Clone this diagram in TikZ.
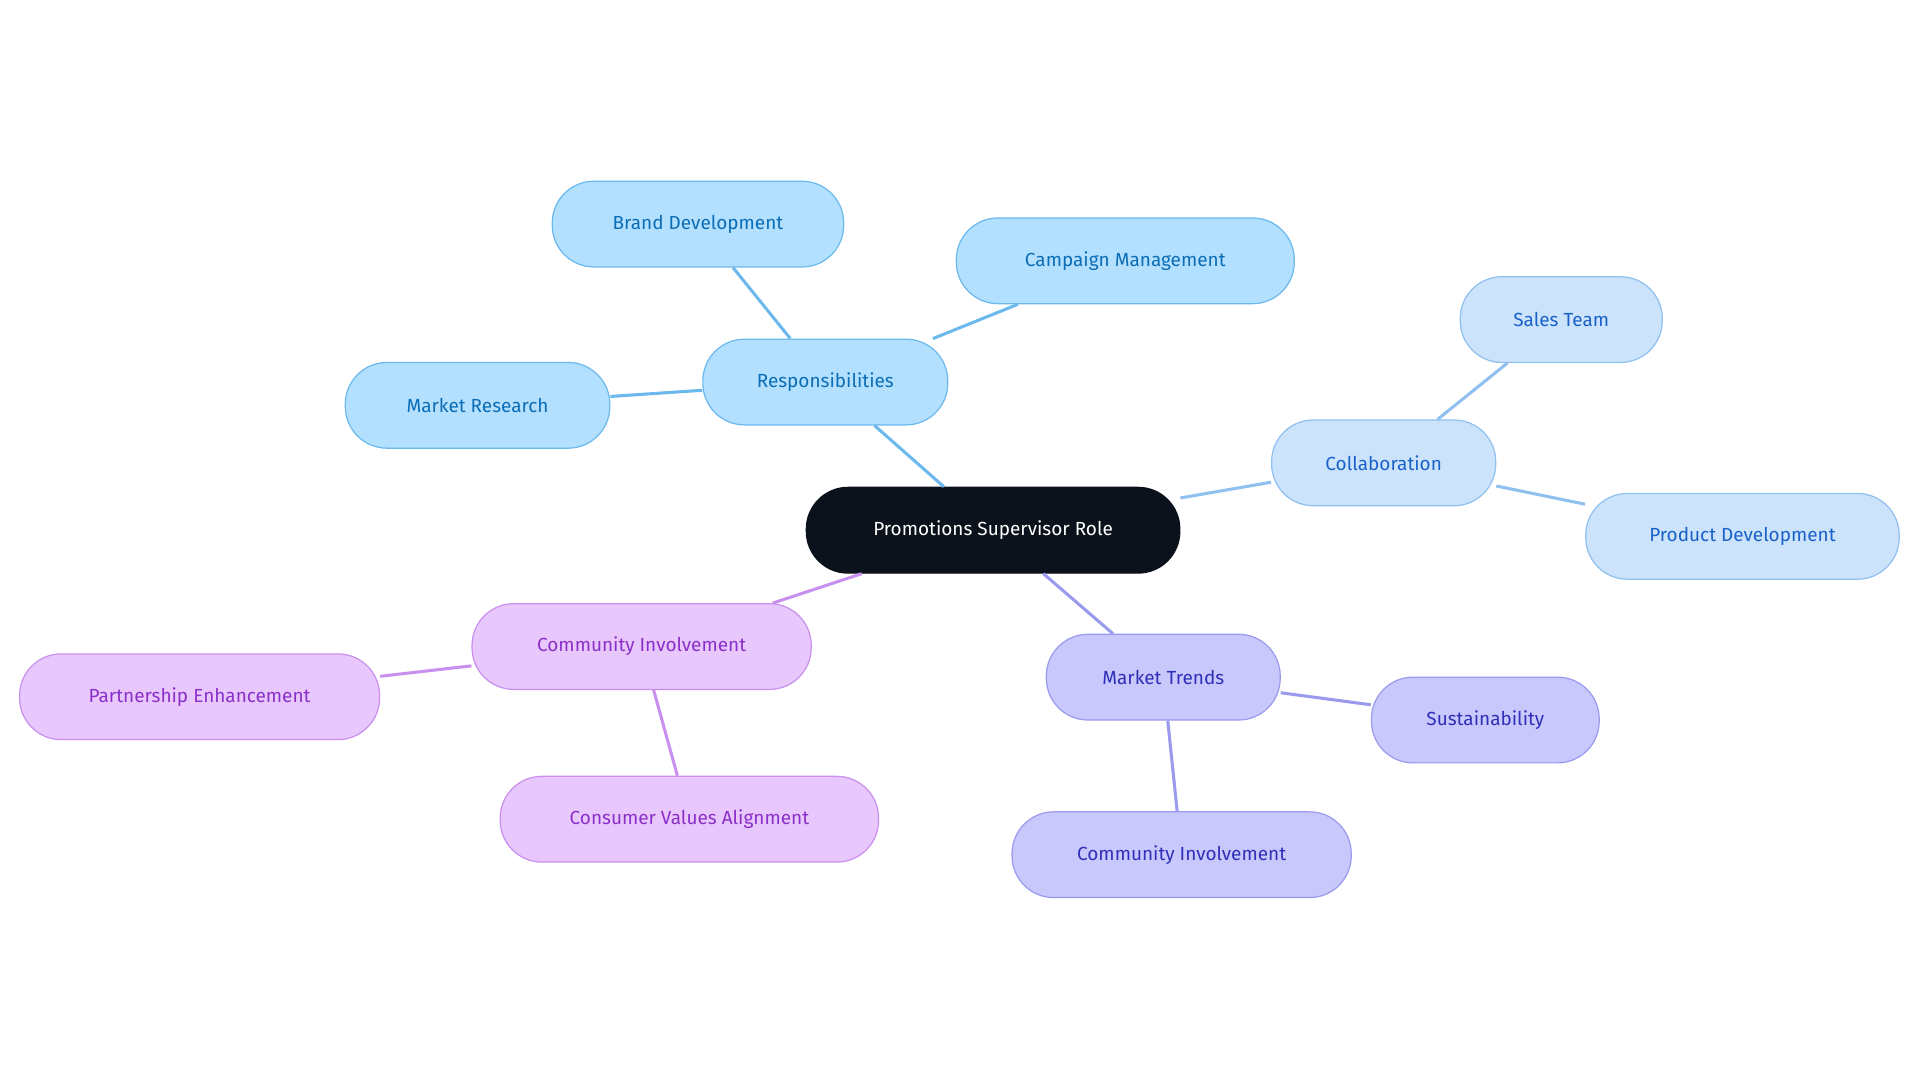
\documentclass[tikz,border=0pt]{standalone}
\usepackage{fontspec}
\setmainfont{Fira Sans}
\begin{document}
\begin{tikzpicture}[x=1pt,y=-1pt,
 box/.style={rounded corners=34pt,minimum height=70pt,line width=1pt,font=\fontsize{15.5}{18}\selectfont,inner sep=0pt},
 blu/.style={box,fill=bF,draw=bS,text=bT},
 col/.style={box,fill=cF,draw=cS,text=cT},
 mkt/.style={box,fill=mF,draw=mS,text=mT},
 com/.style={box,fill=pF,draw=pS,text=pT},
 ed/.style={line width=2.5pt}]
\definecolor{bF}{HTML}{B3E0FF}\definecolor{bS}{HTML}{6CB9ED}\definecolor{bT}{HTML}{0B6DB5}
\definecolor{cF}{HTML}{CCE3FC}\definecolor{cS}{HTML}{90C0EF}\definecolor{cT}{HTML}{1A62C9}
\definecolor{mF}{HTML}{C8C8FC}\definecolor{mS}{HTML}{9A9AEF}\definecolor{mT}{HTML}{2F2FB8}
\definecolor{pF}{HTML}{E8C8FC}\definecolor{pS}{HTML}{C990EF}\definecolor{pT}{HTML}{8B2FC9}
\useasboundingbox (0,0) rectangle (1568,884);
\node[box,fill={rgb,255:red,11;green,18;blue,27},draw={rgb,255:red,11;green,18;blue,27},text=white,minimum width=305pt] (root) at (811,433) {Promotions Supervisor Role};
\node[blu,minimum width=200pt] (resp) at (674,312) {Responsibilities};
\node[blu,minimum width=238pt] (brand) at (570,183) {Brand Development};
\node[blu,minimum width=276pt] (camp) at (919,213) {Campaign Management};
\node[blu,minimum width=216pt] (mr) at (390,331) {Market Research};
\node[col,minimum width=183pt] (coll) at (1130,378) {Collaboration};
\node[col,minimum width=165pt] (sales) at (1275,261) {Sales Team};
\node[col,minimum width=256pt] (prod) at (1423,438) {Product Development};
\node[mkt,minimum width=191pt] (mt) at (950,553) {Market Trends};
\node[mkt,minimum width=186pt] (sus) at (1213,588) {Sustainability};
\node[mkt,minimum width=277pt] (ci2) at (965,698) {Community Involvement};
\node[com,minimum width=277pt] (ci) at (524,528) {Community Involvement};
\node[com,minimum width=294pt] (pe) at (163,569) {Partnership Enhancement};
\node[com,minimum width=309pt] (cva) at (563,669) {Consumer Values Alignment};
\draw[ed,bS] (root) -- (resp); \draw[ed,bS] (resp) -- (brand);
\draw[ed,bS] (resp) -- (camp); \draw[ed,bS] (resp) -- (mr);
\draw[ed,cS] (root) -- (coll); \draw[ed,cS] (coll) -- (sales); \draw[ed,cS] (coll) -- (prod);
\draw[ed,mS] (root) -- (mt); \draw[ed,mS] (mt) -- (sus); \draw[ed,mS] (mt) -- (ci2);
\draw[ed,pS] (root) -- (ci); \draw[ed,pS] (ci) -- (pe); \draw[ed,pS] (ci) -- (cva);
\end{tikzpicture}
\end{document}
